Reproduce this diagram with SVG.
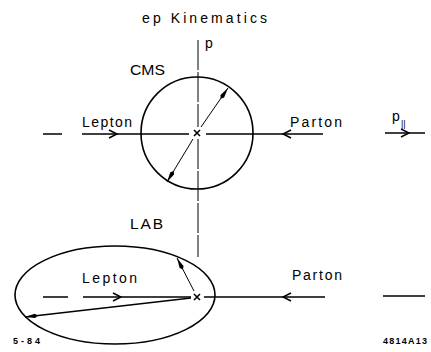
<svg xmlns="http://www.w3.org/2000/svg" xmlns:xlink="http://www.w3.org/1999/xlink" width="431" height="352" viewBox="0 0 431 352">
<style>
.bg{fill:#fff}
.ln{fill:none;stroke:#000;stroke-width:1.3}
.thin{fill:none;stroke:#000;stroke-width:1}
.shape{fill:none;stroke:#000;stroke-width:1.6}
.t{font-family:"Liberation Sans",Arial,sans-serif;fill:#000}
.lbl{font-size:14px}
.big{font-size:15.5px}
.tiny{font-size:9px;font-weight:bold}
</style>
<defs>
<path id="chev" d="M-8,-4 L0,0 L-8,4" fill="none" stroke="#000" stroke-width="1.4"/>
<path id="cross" d="M-3,-3 L3,3 M-3,3 L3,-3" fill="none" stroke="#000" stroke-width="1.6"/>
<marker id="fh" markerUnits="userSpaceOnUse" markerWidth="14" markerHeight="6" refX="13" refY="3" orient="auto">
<path d="M0,3 L3,0.8 L13,3 L3,5.2 z" fill="#000"/>
</marker>
</defs>
<rect class="bg" width="431" height="352"/>

<text class="t lbl" x="142" y="23" textLength="125" lengthAdjust="spacing">ep Kinematics</text>

<g id="axis">
<path class="thin" d="M198,40 V127 M198,139 V257" stroke-dasharray="30,2"/>
<text class="t lbl" x="205" y="48">p</text>
</g>

<g id="cms">
<circle class="shape" cx="197" cy="133" r="56"/>
<text class="t big" x="130" y="75" textLength="35" lengthAdjust="spacingAndGlyphs">CMS</text>
<use xlink:href="#cross" x="197" y="133"/>
</g>

<g id="lab">
<ellipse class="shape" cx="115" cy="295" rx="100" ry="49"/>
<text class="t big" x="130" y="229" textLength="33" lengthAdjust="spacing">LAB</text>
<use xlink:href="#cross" x="197" y="297"/>
</g>

<g id="connectors">
<path class="ln" d="M43,134 H62 M82,134 H189 M206,134 H323"/>
<use xlink:href="#chev" transform="translate(117,134)"/>
<use xlink:href="#chev" transform="translate(283,134) rotate(180)"/>
<text class="t lbl" x="82" y="127" textLength="50" lengthAdjust="spacing">Lepton</text>
<text class="t lbl" x="290" y="127" textLength="52" lengthAdjust="spacing">Parton</text>
<path class="ln" d="M385,133 H425"/>
<use xlink:href="#chev" transform="translate(409,133)"/>
<text class="t lbl" x="392" y="121">p</text>
<text class="t" x="401" y="127" font-size="9" fill="#000">||</text>
<path class="thin" d="M201,127 L228,88" marker-end="url(#fh)"/>
<path class="thin" d="M193,139 L167,182" marker-end="url(#fh)"/>
<path class="ln" d="M43,297 H68 M83,297 H191 M204,297 H325 M383,296 H425"/>
<use xlink:href="#chev" transform="translate(121,297)"/>
<use xlink:href="#chev" transform="translate(283,297) rotate(180)"/>
<text class="t lbl" x="82" y="283" textLength="55" lengthAdjust="spacing">Lepton</text>
<text class="t lbl" x="292" y="280" textLength="50" lengthAdjust="spacing">Parton</text>
<path class="thin" d="M194,291 L177,258" marker-end="url(#fh)"/>
<path class="ln" d="M191,298 L25,317" marker-end="url(#fh)"/>
</g>

<text class="t tiny" x="13" y="344" textLength="27" lengthAdjust="spacing">5-84</text>
<text class="t tiny" x="383" y="344" textLength="44" lengthAdjust="spacing">4814A13</text>
</svg>
